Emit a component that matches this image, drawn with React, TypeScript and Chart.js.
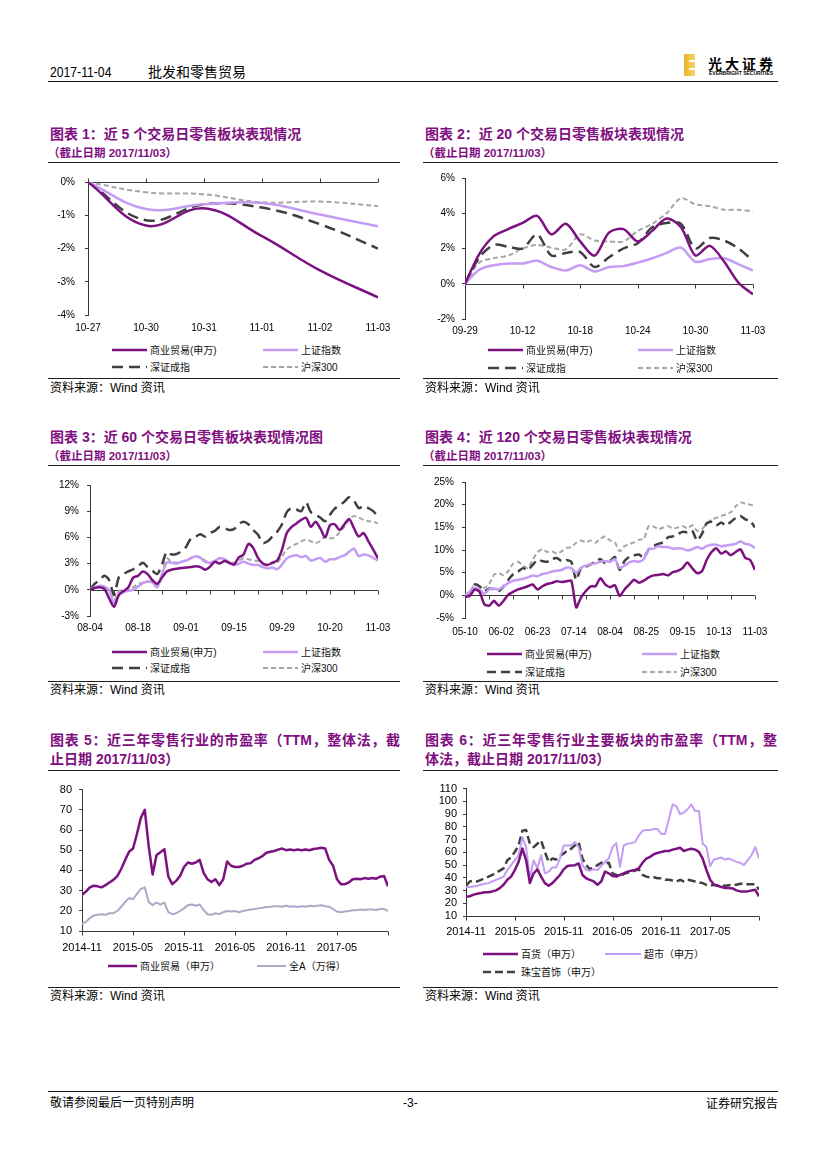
import React, { useEffect, useRef } from 'react';
import { Chart, registerables } from 'chart.js';

Chart.register(...registerables);
Chart.defaults.font.family = "'Liberation Sans', Arial, sans-serif";

// ---------- data ----------
const c1Labels = ['10-27', '10-30', '10-31', '11-01', '11-02', '11-03'];
const c1Trade = [0, -1.31, -0.79, -1.63, -2.66, -3.47];
const c1SH = [0, -0.81, -0.67, -0.63, -0.98, -1.33];
const c1SZ = [0, -1.15, -0.67, -0.77, -1.27, -2.0];
const c1HS = [0, -0.31, -0.37, -0.61, -0.59, -0.72];

const c2Labels = ['09-29', '10-12', '10-18', '10-24', '10-30', '11-03'];
const c2Trade = [0, 1.7, 2.7, 3.1, 3.45, 3.85, 2.8, 3.4, 2.4, 1.6, 2.9, 3.1, 2.4, 3.0, 3.7, 3.2, 1.6, 2.15, 1.25, 0.05, -0.6];
const c2SH = [0, 0.8, 1.05, 1.15, 1.15, 1.3, 0.95, 0.75, 1.05, 0.7, 0.95, 1.0, 1.2, 1.45, 1.75, 2.05, 1.25, 1.4, 1.45, 1.1, 0.75];
const c2SZ = [0, 1.5, 2.2, 2.1, 2.0, 2.8, 1.6, 1.75, 1.8, 0.95, 1.5, 2.0, 2.3, 3.2, 3.45, 3.4, 2.0, 2.6, 2.45, 2.0, 1.3];
const c2HS = [0, 1.2, 1.45, 1.6, 2.0, 2.2, 2.05, 1.95, 2.8, 2.45, 2.4, 2.4, 3.0, 3.4, 4.0, 4.85, 4.5, 4.4, 4.2, 4.2, 4.1];

const c3Labels = ['08-04', '08-18', '09-01', '09-15', '09-29', '10-20', '11-03'];
const c3Trade = [0, 0.2, 0.3, 0.1, -1.0, -1.95, -0.6, -0.15, 0.3, 1.4, 1.6, 2.1, 1.8, 1.1, 0.7, 1.4, 2.1, 2.3, 2.4, 2.5, 2.55, 2.6, 2.7, 2.6, 2.3, 2.65, 3.2, 3.0, 3.3, 3.1, 2.9, 3.7, 4.05, 5.25, 4.8, 3.65, 3.0, 2.85, 3.1, 3.35, 4.6, 6.5, 7.2, 7.6, 8.0, 8.25, 7.2, 7.8, 7.0, 6.0, 7.4, 7.5, 6.85, 7.5, 8.1, 7.05, 6.1, 6.5, 5.55, 4.6, 3.6];
const c3SH = [0, 0.3, 0.45, 0.35, -0.05, -1.55, -0.45, -0.25, -0.1, 0, 0.35, 0.75, 0.95, 0.85, 0.3, 1.8, 3.1, 3.1, 3.0, 3.2, 3.35, 3.6, 3.85, 3.65, 3.2, 3.1, 3.3, 3.6, 3.5, 3.1, 2.85, 3.0, 3.2, 3.0, 2.85, 2.85, 2.6, 2.45, 2.55, 2.35, 2.9, 3.6, 3.85, 3.95, 3.75, 3.85, 3.35, 3.5, 3.65, 3.2, 3.5, 3.5, 3.75, 3.95, 4.35, 4.7, 3.85, 4.05, 3.95, 3.65, 3.35];
const c3SZ = [0, 0.7, 1.1, 1.6, 1.1, -0.6, 1.4, 1.8, 2.1, 2.35, 2.7, 3.1, 2.6, 2.2, 1.8, 2.9, 4.35, 4.05, 4.1, 4.4, 4.9, 5.85, 6.1, 6.35, 6.1, 6.5, 6.75, 7.2, 7.05, 6.85, 6.95, 7.5, 7.8, 7.5, 6.85, 6.3, 5.35, 5.55, 6.1, 6.65, 7.5, 8.9, 9.35, 9.2, 9.0, 10.0, 8.9, 8.6, 8.25, 7.85, 8.6, 9.3, 9.65, 10.1, 10.6, 10.2, 9.35, 9.6, 9.35, 9.0, 8.35];
const c3HS = [0, 0.2, 0.35, 0.3, -0.05, -1.2, -0.15, 0, 0.1, 0.3, 0.65, 0.85, 0.95, 0.85, 0.5, 1.8, 3.6, 3.2, 3.1, 3.2, 3.35, 3.65, 3.85, 3.75, 3.35, 3.1, 3.35, 3.65, 3.5, 3.2, 3.1, 3.35, 3.6, 3.5, 3.35, 3.3, 3.0, 2.9, 3.0, 3.1, 3.85, 4.6, 5.0, 5.25, 5.55, 5.75, 5.55, 5.35, 5.6, 6.1, 5.9, 6.0, 6.6, 7.2, 8.05, 8.45, 8.25, 8.0, 7.85, 7.8, 7.6];

// chart 4: one value every 2 trading days
const c4Labels = ['05-10', '06-02', '06-23', '07-14', '08-04', '08-25', '09-15', '10-13', '11-03'];
const c4Trade = [-0.35, -0.15, 1.3, 0.8, -1.95, -2.3, -1.2, -2.3, -1.2, 0.2, 0.8, 1.3, 1.65, 2.0, 2.4, 1.3, 2.0, 2.5, 2.75, 3.1, 2.95, 3.1, 3.25, -2.65, -0.5, 0.95, 2.0, 2.0, 3.8, 2.4, 1.8, 2.25, -0.15, 1.3, 2.4, 3.45, 2.75, 3.25, 3.95, 4.4, 4.5, 4.7, 4.4, 5.1, 5.4, 6.0, 7.25, 6.0, 4.9, 5.25, 7.8, 9.55, 10.4, 9.2, 9.7, 8.85, 9.55, 10.15, 8.25, 7.8, 5.6];
const c4SH = [0, 0.8, 1.65, 1.3, 0.35, 1.3, 1.5, 1.3, 2.0, 2.75, 3.25, 3.45, 3.65, 3.95, 4.4, 4.2, 4.7, 4.9, 5.25, 5.4, 5.6, 6.1, 6.0, 4.9, 6.1, 6.55, 6.85, 7.05, 7.4, 7.55, 7.4, 8.0, 6.0, 6.55, 7.25, 7.55, 7.4, 8.0, 10.15, 10.3, 10.85, 10.65, 10.65, 10.3, 10.4, 10.3, 9.9, 10.15, 10.65, 10.3, 10.85, 11.15, 11.15, 10.85, 11.0, 11.15, 11.35, 11.85, 11.35, 11.15, 10.45];
const c4SZ = [0, 0.6, 2.4, 2.0, 0.95, 1.5, 1.3, 0.95, 2.0, 3.45, 4.7, 5.25, 6.0, 5.6, 6.7, 7.8, 7.55, 7.4, 8.0, 8.25, 7.55, 7.8, 7.4, 3.45, 6.0, 6.35, 6.85, 7.4, 8.0, 7.05, 7.55, 8.5, 5.6, 7.55, 8.5, 8.85, 9.0, 8.25, 10.15, 10.85, 11.35, 11.7, 12.8, 13.0, 13.5, 14.0, 13.9, 14.25, 12.1, 13.5, 15.9, 16.2, 15.45, 16.05, 15.45, 16.2, 17.1, 17.5, 16.75, 16.4, 14.95];
const c4HS = [0, 0.8, 2.5, 2.0, 1.65, 2.5, 4.55, 4.9, 4.4, 5.4, 7.05, 7.4, 6.55, 6.0, 7.8, 9.55, 10.15, 9.55, 9.7, 9.2, 9.7, 10.45, 10.65, 11.6, 12.1, 11.7, 12.1, 11.6, 12.45, 13.0, 12.1, 11.7, 9.7, 10.85, 11.35, 11.7, 12.3, 12.45, 15.3, 15.2, 14.6, 14.95, 15.3, 14.75, 14.95, 15.3, 14.75, 15.45, 14.25, 14.6, 15.7, 16.75, 17.1, 17.5, 17.85, 18.35, 19.65, 20.5, 20.2, 20.0, 19.8];

// charts 5 & 6: roughly two-weekly samples, Nov 2014 – Nov 2017
const peLabels = ['2014-11', '2015-05', '2015-11', '2016-05', '2016-11', '2017-05', ''];
const c5Trade = [27.9, 29.5, 31.6, 32.4, 32.1, 31.6, 32.7, 34.0, 35.3, 37.2, 40.7, 45.2, 49.2, 50.8, 58.0, 66.0, 70.0, 52.0, 38.0, 47.6, 49.0, 50.5, 37.0, 33.2, 34.8, 37.2, 41.7, 43.9, 43.3, 43.9, 45.2, 38.8, 35.6, 34.3, 35.6, 32.7, 35.6, 44.4, 42.3, 41.7, 41.7, 42.3, 43.3, 43.6, 45.2, 46.0, 47.1, 48.7, 49.2, 49.6, 50.3, 50.8, 50.0, 50.3, 50.0, 50.3, 50.0, 50.3, 50.0, 50.6, 50.8, 51.2, 50.8, 45.2, 42.3, 35.6, 33.2, 33.2, 34.0, 35.6, 35.9, 35.6, 36.2, 35.9, 36.2, 35.9, 36.9, 37.2, 32.1];
const c5AllA = [13.5, 14.5, 16.4, 17.7, 18.0, 18.3, 18.0, 18.8, 18.8, 19.9, 22.0, 24.4, 26.3, 25.7, 28.4, 30.8, 31.6, 24.4, 22.8, 24.1, 23.1, 24.1, 19.3, 18.3, 18.8, 19.9, 21.2, 22.8, 23.1, 22.5, 23.1, 20.4, 18.3, 18.0, 18.8, 18.3, 19.3, 19.9, 19.6, 19.9, 19.3, 19.9, 20.3, 20.6, 20.9, 21.2, 21.5, 21.9, 22.0, 22.2, 22.3, 22.0, 22.5, 22.0, 22.2, 21.9, 22.2, 22.0, 22.5, 22.2, 22.5, 22.7, 22.3, 22.0, 20.9, 19.6, 19.3, 19.6, 19.9, 20.3, 20.3, 20.6, 20.4, 20.6, 20.6, 20.4, 20.9, 20.9, 19.9];
const c6Dept = [25.0, 25.5, 26.8, 27.5, 28.0, 28.6, 28.6, 29.3, 30.1, 31.9, 34.5, 38.4, 40.9, 46.1, 52.5, 63.0, 53.9, 35.8, 43.5, 46.6, 40.9, 35.8, 33.7, 35.8, 38.9, 42.2, 46.6, 49.2, 49.7, 49.9, 51.2, 42.2, 39.6, 38.4, 37.1, 34.5, 37.1, 44.8, 43.5, 41.4, 40.9, 42.2, 43.5, 44.8, 45.6, 46.1, 47.4, 51.8, 55.1, 56.4, 58.5, 59.5, 60.3, 61.0, 61.0, 62.1, 62.8, 63.6, 61.0, 62.1, 62.8, 62.1, 60.3, 55.1, 46.1, 38.4, 34.5, 33.7, 32.7, 31.9, 31.9, 31.6, 30.1, 29.3, 29.3, 29.3, 30.1, 30.6, 25.5];
const c6Super = [32.7, 32.7, 33.2, 33.7, 34.5, 35.3, 35.8, 37.1, 38.4, 39.6, 40.9, 46.1, 49.9, 53.8, 57.7, 71.9, 64.1, 39.6, 53.8, 47.4, 57.7, 43.5, 44.8, 48.1, 48.1, 55.1, 65.4, 65.4, 65.4, 68.0, 64.1, 49.9, 46.1, 45.6, 46.6, 46.1, 49.2, 52.5, 55.1, 64.1, 67.2, 48.6, 65.4, 66.7, 67.2, 68.0, 73.1, 77.0, 77.5, 77.5, 78.3, 78.3, 74.4, 74.4, 86.0, 97.6, 96.3, 89.9, 91.2, 93.8, 97.6, 92.5, 92.5, 66.7, 64.1, 49.2, 54.3, 55.1, 55.9, 54.3, 55.1, 53.8, 52.5, 51.8, 49.9, 53.8, 57.7, 64.1, 55.1];
const c6Jewel = [33.7, 37.1, 37.8, 37.1, 38.4, 39.6, 40.9, 42.2, 44.0, 45.6, 47.4, 53.8, 55.9, 60.3, 65.4, 77.0, 77.5, 66.7, 64.1, 66.7, 69.3, 60.3, 52.5, 55.1, 54.3, 56.9, 59.0, 61.5, 62.8, 65.4, 68.0, 55.1, 49.9, 46.6, 48.1, 49.9, 51.8, 51.2, 51.8, 43.5, 42.2, 40.9, 43.0, 44.0, 44.8, 45.6, 46.6, 42.2, 40.9, 40.4, 40.4, 39.6, 39.6, 38.4, 38.4, 37.8, 37.1, 38.4, 37.1, 38.4, 37.8, 37.1, 36.3, 35.8, 34.5, 33.7, 34.5, 33.7, 33.7, 33.7, 34.2, 34.5, 34.5, 35.3, 35.3, 35.0, 35.0, 35.0, 30.6];

// ---------- styles ----------
const PURPLE = '#7c1180';
const LAVENDER = '#c49cf3';
const DARK = '#404040';
const LIGHT = '#a6a6a6';
const ALLA = '#b3a6c9';
const AXIS = '#3a3a3a';
const TITLE = '#800f80';
const CJK = "'Liberation Sans', 'Noto Sans CJK SC', sans-serif";

type Series = { data: number[]; color: string; width: number; dash?: number[] };
type Spec = {
  L: number; R: number; T: number; B: number;
  series: Series[];
  step: number; xMax: number;
  labels: string[]; labelStep: number; tickStep: number;
  yMin: number; yMax: number; yStep: number; pct: boolean;
  axisAt: number; tickDir: number; tension: number;
  xPad: number; yPad: number; fontSize: number;
};

function axisPlugin(spec: Spec) {
  return {
    id: 'baseAxis',
    beforeDatasetsDraw(chart: any) {
      const { ctx } = chart;
      const x = chart.scales.x;
      const y = chart.scales.y;
      const py = Math.round(y.getPixelForValue(spec.axisAt)) + 0.5;
      ctx.save();
      ctx.strokeStyle = AXIS;
      ctx.lineWidth = 1;
      ctx.beginPath();
      ctx.moveTo(x.getPixelForValue(0), py);
      ctx.lineTo(x.getPixelForValue(spec.xMax), py);
      for (let v = 0; v <= spec.xMax + 1e-9; v += spec.tickStep) {
        const px = Math.round(x.getPixelForValue(v)) + 0.5;
        ctx.moveTo(px, py);
        ctx.lineTo(px, py + spec.tickDir * 4);
      }
      ctx.stroke();
      ctx.restore();
    },
  };
}

const PADL = 44, PADT = 10, PADR = 26, XH = 26;

function LineChart({ spec }: { spec: Spec }) {
  const ref = useRef<HTMLCanvasElement>(null);
  const w = spec.R - spec.L + PADL + PADR;
  const h = spec.B - spec.T + PADT + XH;
  useEffect(() => {
    const chart = new Chart(ref.current as HTMLCanvasElement, {
      type: 'line',
      data: {
        datasets: spec.series.map((s) => ({
          data: s.data.map((v, i) => ({ x: i * spec.step, y: v })),
          borderColor: s.color,
          borderWidth: s.width,
          borderDash: s.dash ?? [],
          pointRadius: 0,
          tension: spec.tension,
          fill: false,
          borderCapStyle: 'butt',
          borderJoinStyle: 'round',
        })),
      } as any,
      options: {
        responsive: false,
        animation: false,
        layout: { padding: { top: PADT, right: PADR, left: 0, bottom: 0 } },
        plugins: { legend: { display: false }, tooltip: { enabled: false } },
        scales: {
          x: {
            type: 'linear',
            min: 0,
            max: spec.xMax,
            afterFit: (s: any) => { s.height = XH; },
            grid: { display: false, drawTicks: false },
            border: { display: false },
            ticks: {
              stepSize: spec.labelStep,
              autoSkip: false,
              maxRotation: 0,
              padding: spec.xPad,
              color: '#000',
              font: { size: spec.fontSize },
              callback: (v: any) => spec.labels[Math.round(Number(v) / spec.labelStep)] ?? '',
            },
          },
          y: {
            min: spec.yMin,
            max: spec.yMax,
            afterFit: (s: any) => { s.width = PADL; },
            grid: { drawOnChartArea: false, drawTicks: true, tickLength: 3, color: AXIS },
            border: { display: true, color: AXIS, width: 1 },
            ticks: {
              stepSize: spec.yStep,
              autoSkip: false,
              maxTicksLimit: 20,
              padding: spec.yPad,
              color: '#000',
              font: { size: spec.fontSize },
              callback: (v: any) => (spec.pct ? `${v}%` : `${v}`),
            },
          },
        },
      } as any,
      plugins: [axisPlugin(spec)],
    });
    return () => chart.destroy();
  }, []);
  return (
    <canvas
      ref={ref}
      width={w}
      height={h}
      style={{ position: 'absolute', left: spec.L - PADL, top: spec.T - PADT, width: w, height: h }}
    />
  );
}

function Txt({ x, y, size, children, bold, color, width, justify, family }: any) {
  return (
    <div
      style={{
        position: 'absolute', left: x, top: y - size * 0.65, fontSize: size, lineHeight: `${size * 1.3}px`,
        fontWeight: bold ? 700 : 400, color: color ?? '#000', whiteSpace: 'nowrap',
        fontFamily: family ?? CJK, width, textAlign: justify ? 'justify' : 'left',
        textAlignLast: justify ? 'justify' : 'auto',
      } as any}
    >
      {children}
    </div>
  );
}

function HLine({ x1, x2, y, color }: any) {
  return <div style={{ position: 'absolute', left: x1, top: y, width: x2 - x1, height: 1, background: color ?? '#1e1e1e' }} />;
}

function Leg({ x, y, len, color, width, dash, text }: any) {
  return (
    <>
      <svg style={{ position: 'absolute', left: x, top: y - 5 }} width={len} height={10}>
        <line x1={0} y1={5} x2={len} y2={5} stroke={color} strokeWidth={width} strokeDasharray={dash ? dash.join(' ') : undefined} />
      </svg>
      <Txt x={x + len + 3} y={y} size={10} color="#111">{text}</Txt>
    </>
  );
}

const s = (data: number[], color: string, width: number, dash?: number[]): Series => ({ data, color, width, dash });

export default function App() {
  const spec1: Spec = {
    L: 88, R: 378, T: 176, B: 315,
    series: [s(c1Trade, PURPLE, 2.5), s(c1SH, LAVENDER, 2.5), s(c1SZ, DARK, 2.5, [11, 6]), s(c1HS, LIGHT, 2, [5, 3])],
    step: 1, xMax: 5, labels: c1Labels, labelStep: 1, tickStep: 1,
    yMin: -4, yMax: 0, yStep: 1, pct: true, axisAt: 0, tickDir: -1, tension: 0.4,
    xPad: 7, yPad: 10, fontSize: 10,
  };
  const spec2: Spec = {
    L: 465, R: 753, T: 175, B: 319,
    series: [s(c2Trade, PURPLE, 2.5), s(c2SH, LAVENDER, 2.5), s(c2SZ, DARK, 2.5, [11, 6]), s(c2HS, LIGHT, 2, [5, 3])],
    step: 1, xMax: 20, labels: c2Labels, labelStep: 4, tickStep: 4,
    yMin: -2, yMax: 6, yStep: 2, pct: true, axisAt: 0, tickDir: 1, tension: 0.3,
    xPad: 6, yPad: 7, fontSize: 10,
  };
  const spec3: Spec = {
    L: 90, R: 378, T: 481, B: 616,
    series: [s(c3Trade, PURPLE, 2.5), s(c3SH, LAVENDER, 2.5), s(c3SZ, DARK, 2.5, [11, 6]), s(c3HS, LIGHT, 2, [5, 3])],
    step: 1, xMax: 60, labels: c3Labels, labelStep: 10, tickStep: 5,
    yMin: -3, yMax: 12, yStep: 3, pct: true, axisAt: 0, tickDir: 1, tension: 0.3,
    xPad: 6, yPad: 8, fontSize: 10,
  };
  const spec4: Spec = {
    L: 465, R: 755, T: 478, B: 618,
    series: [s(c4Trade, PURPLE, 2.5), s(c4SH, LAVENDER, 2.5), s(c4SZ, DARK, 2.5, [9, 5]), s(c4HS, LIGHT, 2, [5, 3])],
    step: 2, xMax: 120, labels: c4Labels, labelStep: 15, tickStep: 10,
    yMin: -5, yMax: 25, yStep: 5, pct: true, axisAt: 0, tickDir: 1, tension: 0.2,
    xPad: 8, yPad: 8, fontSize: 10,
  };
  const spec5: Spec = {
    L: 82, R: 388, T: 786, B: 931,
    series: [s(c5Trade, PURPLE, 2.5), s(c5AllA, ALLA, 2)],
    step: 1, xMax: 78, labels: peLabels, labelStep: 13, tickStep: 13,
    yMin: 10, yMax: 80, yStep: 10, pct: false, axisAt: 10, tickDir: 1, tension: 0,
    xPad: 10, yPad: 7, fontSize: 11,
  };
  const spec6: Spec = {
    L: 466, R: 759, T: 786, B: 916,
    series: [s(c6Dept, PURPLE, 2.5), s(c6Super, LAVENDER, 2), s(c6Jewel, DARK, 2.5, [8, 4])],
    step: 1, xMax: 78, labels: peLabels, labelStep: 13, tickStep: 13,
    yMin: 10, yMax: 110, yStep: 10, pct: false, axisAt: 10, tickDir: 1, tension: 0,
    xPad: 9, yPad: 6, fontSize: 11,
  };

  const legend4 = (x1: number, x2: number, y1: number, y2: number, dashSZ: number[]) => (
    <>
      <Leg x={x1} y={y1} len={35} color={PURPLE} width={2.5} text="商业贸易(申万)" />
      <Leg x={x2} y={y1} len={35} color={LAVENDER} width={2.5} text="上证指数" />
      <Leg x={x1} y={y2} len={35} color={DARK} width={2.5} dash={dashSZ} text="深证成指" />
      <Leg x={x2} y={y2} len={35} color={LIGHT} width={2} dash={[5, 3]} text="沪深300" />
    </>
  );

  const src = (x: number, lineY: number, textY: number, x2: number) => (
    <>
      <HLine x1={x} x2={x2} y={lineY} />
      <Txt x={x + 2} y={textY} size={12}>资料来源：Wind 资讯</Txt>
    </>
  );

  return (
    <div style={{ position: 'absolute', left: 0, top: 0, width: 827, height: 1169, background: '#fff', overflow: 'hidden' }}>
      {/* header */}
      <div style={{ position: 'absolute', left: 50, top: 63, fontSize: 14, lineHeight: '18px', fontFamily: CJK, whiteSpace: 'nowrap' }}>
        <span style={{ display: 'inline-block', transform: 'scaleX(0.87)', transformOrigin: 'left center', width: 62 }}>2017-11-04</span>
        <span style={{ marginLeft: 36 }}>批发和零售贸易</span>
      </div>
      <div style={{ position: 'absolute', left: 684, top: 54, width: 11, height: 22, background: 'linear-gradient(90deg,#e9b42a,#f6d66a)' }} />
      <div style={{ position: 'absolute', left: 689, top: 60, width: 6, height: 2, background: '#fff' }} />
      <div style={{ position: 'absolute', left: 689, top: 68, width: 6, height: 2, background: '#fff' }} />
      <Txt x={708} y={63} size={14} bold family="'Noto Sans CJK SC', sans-serif"><span style={{ letterSpacing: 3 }}>光大证券</span></Txt>
      <Txt x={709} y={73.5} size={5} bold family="'Liberation Sans', sans-serif">EVERBRIGHT SECURITIES</Txt>
      <HLine x1={48} x2={778} y={81} color="#111" />

      {/* chart 1 */}
      <Txt x={50} y={134} size={14} bold color={TITLE}>图表 1：近 5 个交易日零售板块表现情况</Txt>
      <Txt x={48} y={153} size={11.5} bold color={TITLE}>（截止日期 2017/11/03）</Txt>
      <HLine x1={48} x2={400} y={162} />
      <LineChart spec={spec1} />
      {legend4(112, 263, 350, 367, [11, 6])}
      {src(48, 378, 389, 400)}

      {/* chart 2 */}
      <Txt x={425} y={134} size={14} bold color={TITLE}>图表 2：近 20 个交易日零售板块表现情况</Txt>
      <Txt x={423} y={153} size={11.5} bold color={TITLE}>（截止日期 2017/11/03）</Txt>
      <HLine x1={423} x2={778} y={162} />
      <LineChart spec={spec2} />
      {legend4(488, 638, 350, 368, [11, 6])}
      {src(423, 378, 389, 778)}

      {/* chart 3 */}
      <Txt x={50} y={437} size={14} bold color={TITLE}>图表 3：近 60 个交易日零售板块表现情况图</Txt>
      <Txt x={48} y={456} size={11.5} bold color={TITLE}>（截止日期 2017/11/03）</Txt>
      <HLine x1={48} x2={400} y={465} />
      <LineChart spec={spec3} />
      {legend4(112, 263, 652, 668, [11, 6])}
      {src(48, 681, 691, 400)}

      {/* chart 4 */}
      <Txt x={425} y={437} size={14} bold color={TITLE}>图表 4：近 120 个交易日零售板块表现情况</Txt>
      <Txt x={423} y={456} size={11.5} bold color={TITLE}>（截止日期 2017/11/03）</Txt>
      <HLine x1={423} x2={778} y={465} />
      <LineChart spec={spec4} />
      {legend4(487, 642, 654, 672, [9, 5])}
      {src(423, 681, 691, 778)}

      {/* chart 5 */}
      <Txt x={50} y={740} size={14} bold color={TITLE} width={350} justify>图表 5：近三年零售行业的市盈率（TTM，整体法，截</Txt>
      <Txt x={50} y={759} size={14} bold color={TITLE}>止日期 2017/11/03）</Txt>
      <HLine x1={48} x2={400} y={770} />
      <LineChart spec={spec5} />
      <Leg x={108} y={966} len={29} color={PURPLE} width={2.5} text="商业贸易（申万）" />
      <Leg x={257} y={966} len={29} color={ALLA} width={2} text="全A（万得）" />
      {src(48, 987, 997, 400)}

      {/* chart 6 */}
      <Txt x={425} y={740} size={14} bold color={TITLE} width={352} justify>图表 6：近三年零售行业主要板块的市盈率（TTM，整</Txt>
      <Txt x={425} y={759} size={14} bold color={TITLE}>体法，截止日期 2017/11/03）</Txt>
      <HLine x1={423} x2={778} y={770} />
      <LineChart spec={spec6} />
      <Leg x={483} y={954} len={35} color={PURPLE} width={2.5} text="百货（申万）" />
      <Leg x={605} y={954} len={36} color={LAVENDER} width={2} text="超市（申万）" />
      <Leg x={483} y={972} len={35} color={DARK} width={2.5} dash={[8, 4]} text="珠宝首饰（申万）" />
      {src(423, 987, 997, 778)}

      {/* footer */}
      <HLine x1={48} x2={778} y={1091} color="#111" />
      <Txt x={50} y={1104} size={12}>敬请参阅最后一页特别声明</Txt>
      <Txt x={403} y={1104} size={12}>-3-</Txt>
      <div style={{ position: 'absolute', left: 600, width: 178, top: 1096, fontSize: 12, lineHeight: '16px', textAlign: 'right', fontFamily: CJK }}>证券研究报告</div>
    </div>
  );
}
